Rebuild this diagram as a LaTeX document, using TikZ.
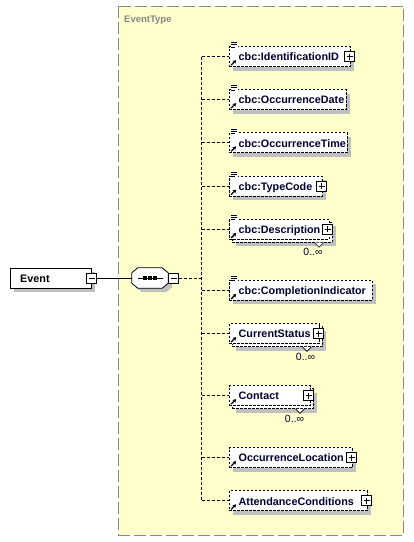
\documentclass[tikz,border=0pt]{standalone}
\usepackage{fontspec}
\setmainfont{Liberation Sans}
\usetikzlibrary{arrows.meta,shadows}
\definecolor{ybg}{RGB}{255,255,204}
\definecolor{ybord}{RGB}{136,136,136}
\definecolor{shgray}{RGB}{192,192,192}
\definecolor{navy}{RGB}{0,0,48}
\tikzset{
  elshadow/.style={general shadow={shadow xshift=4pt,shadow yshift=-4pt,fill=shgray}},
  elbox/.style={draw=black, dash pattern=on 2.5pt off 1.5pt, line width=0.8pt, fill=white,
    minimum height=20pt, inner sep=0, anchor=west, elshadow},
  elfront/.style={draw=black, dash pattern=on 2.5pt off 1.5pt, line width=0.8pt, fill=white,
    minimum height=20pt, inner sep=0, anchor=west},
  lbl/.style={anchor=base west, inner sep=0, text=navy, font=\fontsize{10.8}{12}\selectfont\bfseries},
  occ/.style={inner sep=0, text=navy, font=\fontsize{10.5}{12}\selectfont},
  pmbox/.style={draw=black, fill=white, minimum size=10pt, inner sep=0, line width=0.8pt},
  plusbox/.style={pmbox, path picture={\draw[line width=0.8pt]
     ([yshift=-2pt]path picture bounding box.north) -- ([yshift=2pt]path picture bounding box.south)
     ([xshift=2pt]path picture bounding box.west) -- ([xshift=-2pt]path picture bounding box.east);}},
  minusbox/.style={pmbox, path picture={\draw[line width=0.8pt]
     ([xshift=2pt]path picture bounding box.west) -- ([xshift=-2pt]path picture bounding box.east);}},
  conn/.style={draw=black, line width=0.8pt, dash pattern=on 3pt off 2pt},
  refarrow/.style={line width=1.3pt, -{Stealth[length=3.5pt,width=4pt]}},
  docicon/.style={line width=0.8pt},
  notch/.style={draw=black, fill=white, line width=0.6pt},
}
% element helpers: name, width, center y, text
\newcommand\mkelem[4]{%
  \node[elbox, minimum width=#2pt] (#1) at (229,#3) {};
  \node[lbl] (#1t) at ([xshift=9.5pt,yshift=-4.3pt]#1.west) {#4};
  \draw[refarrow] ([xshift=2.2pt,yshift=1.8pt]#1.south west) -- ++(5pt,5pt);
}
\newcommand\mkrep[4]{%
  \node[elbox, minimum width=#2pt] (#1b) at (232,#3+3) {};
  \node[elfront, minimum width=#2pt] (#1) at (229,#3) {};
  \node[lbl] (#1t) at ([xshift=9.5pt,yshift=-4.3pt]#1.west) {#4};
  \draw[refarrow] ([xshift=2.2pt,yshift=1.8pt]#1.south west) -- ++(5pt,5pt);
}
\newcommand\mkdoc[1]{%
  \fill[white] ([xshift=1.8pt,yshift=4pt]#1.north west) rectangle ([xshift=8.5pt,yshift=-1.5pt]#1.north west);
  \draw[docicon] ([xshift=2.2pt,yshift=3.4pt]#1.north west) -- ++(6pt,0)
                 ([xshift=2.2pt,yshift=1.3pt]#1.north west) -- ++(6pt,0)
                 ([xshift=2.2pt,yshift=-0.8pt]#1.north west) -- ++(4pt,0);
}
\newcommand\mknotch[2]{% back node, x
  \draw[notch] (#2-4.5,0 |- #1.south) -- ++(4.5pt,-4.5pt) -- ++(4.5pt,4.5pt);
}
\begin{document}
\begin{tikzpicture}[x=1pt,y=-1pt]
\useasboundingbox (0,0) rectangle (414,542);
\fill[white] (0,0) rectangle (414,542);

% type container
\draw[fill=ybg, draw=ybord, line width=1pt, dash pattern=on 12pt off 4pt] (118.5,6) rectangle (403.5,535);
\node[anchor=base west, inner sep=0, text=ybord, font=\fontsize{9.5}{11}\selectfont\bfseries] (typelbl) at (124,22.5) {EventType};

% Event element
\node[draw=black, fill=white, line width=0.8pt, minimum width=81pt, minimum height=20pt, inner sep=0, anchor=west, elshadow] (event) at (10,278) {};
\node[lbl, text=black] (eventt) at (20,282.3) {Event};
\node[minusbox] (eventm) at (event.east) {};

% sequence compositor
\node[minimum width=36pt, minimum height=20pt, inner sep=0] (seq) at (150,278) {};
\draw[fill=white, line width=0.8pt, elshadow]
  ([xshift=6pt]seq.north west) -- ([xshift=-6pt]seq.north east) -- ([yshift=-5pt]seq.north east)
  -- ([yshift=5pt]seq.south east) -- ([xshift=-6pt]seq.south east) -- ([xshift=6pt]seq.south west)
  -- ([yshift=5pt]seq.south west) -- ([yshift=-5pt]seq.north west) -- cycle;
\draw[line width=0.8pt] ([xshift=6pt]seq.west) -- ([xshift=-5pt]seq.east);
\foreach \dx in {-5,0,5} \fill ([xshift=\dx pt]seq.center) +(-1.6pt,-1.6pt) rectangle +(1.6pt,1.6pt);
\node[minusbox] (seqm) at ([xshift=5.3pt]seq.east) {};
\draw[line width=0.8pt] (eventm.east) -- (seq.west);

% children
\mkelem{idid}{121}{56.5}{cbc:IdentificationID}
\mkdoc{idid}
\node[plusbox] (ididp) at ([xshift=-1pt]idid.east) {};

\mkelem{odate}{117}{99.5}{cbc:OccurrenceDate}
\mkdoc{odate}

\mkelem{otime}{118}{142.7}{cbc:OccurrenceTime}
\mkdoc{otime}

\mkelem{tcode}{93}{186}{cbc:TypeCode}
\mkdoc{tcode}
\node[plusbox] (tcodep) at ([xshift=-1pt]tcode.east) {};

\mkrep{desc}{100}{229.3}{cbc:Description}
\mkdoc{desc}
\mknotch{descb}{319}
\node[plusbox] (descp) at ([xshift=-2pt]desc.east) {};
\node[occ] (descocc) at (313,252) {0..∞};

\mkelem{compl}{143}{290.3}{cbc:CompletionIndicator}
\mkdoc{compl}

\mkrep{cstat}{90}{333.5}{CurrentStatus}
\mknotch{cstatb}{307}
\node[plusbox] (cstatp) at ([xshift=-1pt]cstat.east) {};
\node[occ] (cstatocc) at (305.5,357) {0..∞};

\mkrep{cont}{81}{395.5}{Contact}
\mknotch{contb}{300}
\node[plusbox] (contp) at ([xshift=-2pt]cont.east) {};
\node[occ] (contocc) at (294.5,419) {0..∞};

\mkelem{oloc}{123}{457.5}{OccurrenceLocation}
\node[plusbox] (olocp) at ([xshift=-1pt]oloc.east) {};

\mkelem{att}{138}{500.7}{AttendanceConditions}
\node[plusbox] (attp) at ([xshift=-1pt]att.east) {};

% connectors
\coordinate (spine) at (201.5,278);
\draw[conn] (seqm.east) -- (spine);
\draw[conn] (spine |- idid.west) -- (spine |- att.west);
\foreach \n in {idid,odate,otime,tcode,desc,compl,cstat,cont,oloc,att}
  \draw[conn] (spine |- \n.west) -- (\n.west);
\end{tikzpicture}
\end{document}
